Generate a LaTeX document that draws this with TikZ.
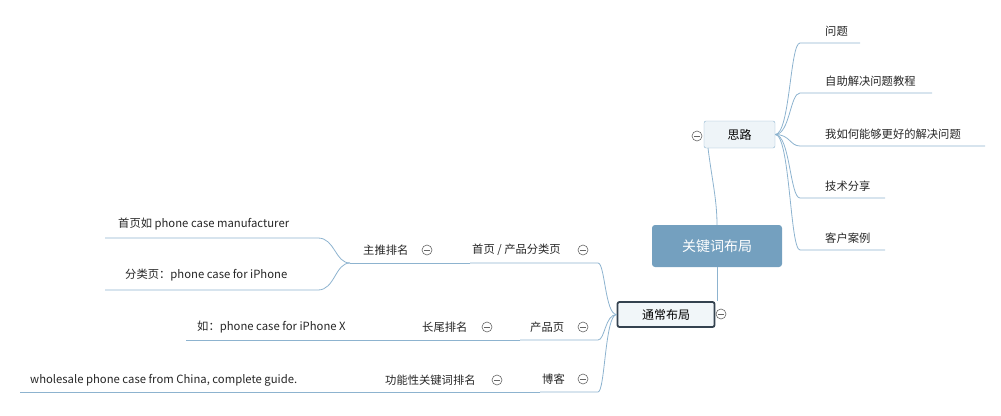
\documentclass[tikz,border=0pt]{standalone}
\usepackage{fontspec}
\setmainfont{Noto Sans CJK SC}
\definecolor{ln}{HTML}{8DB3CF}
\definecolor{rootc}{HTML}{74A0BF}
\definecolor{dark}{HTML}{34424F}
\tikzset{x=1pt,y=-1pt,
 lbl/.style={font=\fontsize{11.3}{12}\selectfont,text=black!85,inner sep=0pt,anchor=west},
 br/.style={draw=ln,line width=0.8pt},
 col/.style={circle,draw=black!60,fill=white,minimum size=10pt,inner sep=0pt,line width=0.6pt,
   path picture={\draw[black!60,line width=0.6pt] ([xshift=-3pt]path picture bounding box.center)--([xshift=3pt]path picture bounding box.center);}}}
\begin{document}
\begin{tikzpicture}
\useasboundingbox (0,0) rectangle (1001,415);
% hubs
\node[draw=none,fill=rootc,rounded corners=3pt,minimum width=130pt,minimum height=42pt,text=white,font=\fontsize{14}{16}\selectfont] (root) at (717,246) {关键词布局};
\node[draw=ln,fill=ln!15!white,rounded corners=2pt,minimum width=71pt,minimum height=27pt,font=\fontsize{12}{14}\selectfont] (sl) at (739.5,134.5) {思路};
\node[draw=dark,line width=1.8pt,fill=ln!12!white,rounded corners=2pt,minimum width=97pt,minimum height=25pt,font=\fontsize{12}{14}\selectfont] (ty) at (666,314.5) {通常布局};
\draw[br] (708,148) .. controls (712,180) and (717,200) .. (root.north);
\draw[br] (root.south) -- (ty.north -| root.south);
\node[col] at (697,136) {};
\node[col] at (721,314) {};
% right children
\foreach \n/\t/\y/\e in {a/问题/31/860,b/自助解决问题教程/81/932,c/我如何能够更好的解决问题/134/985,d/技术分享/186/885,e/客户案例/238/885}{
 \node[lbl] (\n) at (825,\y) {\t};
 \coordinate (\n s) at (800,\y+12);
 \coordinate (\n e) at (\e,\y+12);
 \draw[br] (sl.east) .. controls (790,134.5) and (790,\y+12) .. (\n s) -- (\n e);
}
% left level 1
\foreach \n/\t/\y/\s/\tx in {p/{首页 / 产品分类页}/263/470/472,q/产品页/340/520/530,r/博客/392/540/542}{
 \node[lbl] (\n) at (\tx,\y-13) {\t};
 \coordinate (\n s) at (\s,\y);
 \coordinate (\n e) at (598,\y);
 \draw[br] (ty.west) .. controls (605,314.5) and (605,\y) .. (\n e) -- (\n s);
 \node[col] at (583,\y-13) {};
}
% level 2
\node[lbl] (p2) at (363,250) {主推排名};
\node[col] at (427,250) {};
\draw[br] (ps) -- (350,263) coordinate (p2s);
\node[lbl] (q2) at (422,327) {长尾排名};
\node[col] at (487,327) {};
\draw[br] (qs) -- (420,340) coordinate (q2s);
\node[lbl] (r2) at (385,380) {功能性关键词排名};
\node[col] at (497,380) {};
\draw[br] (rs) -- (372,392) coordinate (r2s);
% level 3
\node[lbl] (p3) at (118,224) {首页如 phone case manufacturer};
\draw[br] (p2s) .. controls (335,263) and (335,238) .. (318,238) -- (105,238);
\node[lbl] (p4) at (125,275) {分类页：phone case for iPhone};
\draw[br] (p2s) .. controls (335,263) and (335,290) .. (318,290) -- (105,290);
\node[lbl] (q3) at (197,327) {如：phone case for iPhone X};
\draw[br] (q2s) -- (186,340);
\node[lbl] (r3) at (30,380) {wholesale phone case from China, complete guide.};
\draw[br] (r2s) -- (20,392);
\end{tikzpicture}
\end{document}
